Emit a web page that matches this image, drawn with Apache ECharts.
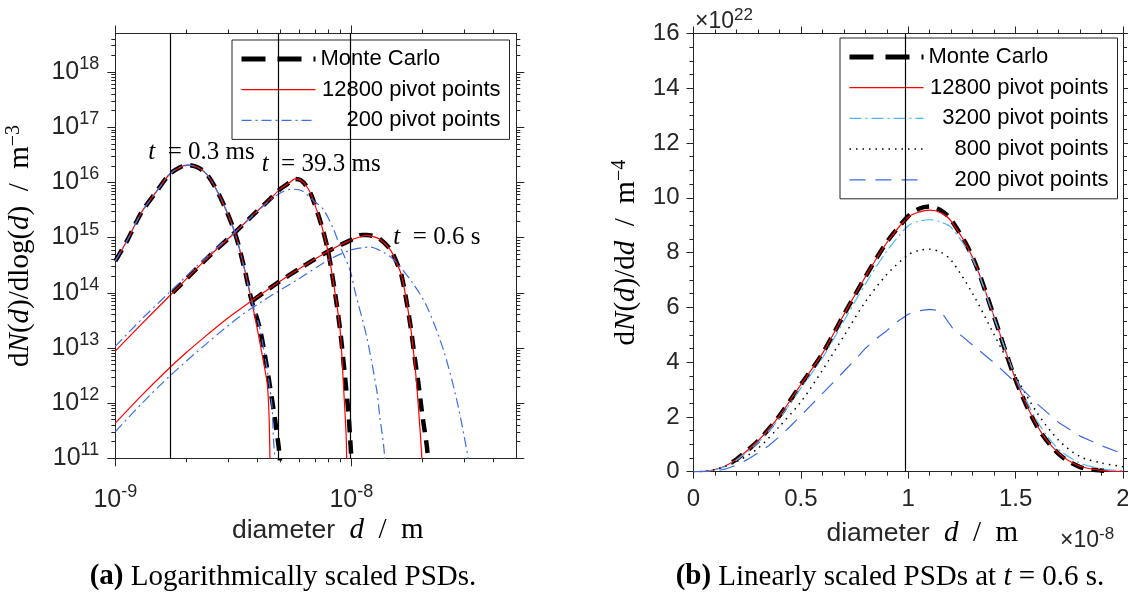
<!DOCTYPE html>
<html><head><meta charset="utf-8">
<script src="https://cdn.jsdelivr.net/npm/echarts@6/dist/echarts.min.js"></script>
<style>html,body{margin:0;padding:0;background:#fff}#c{width:1128px;height:596px}</style>
</head><body><div id="c"></div>
<script>
// ===== (a) log-scaled PSDs: diameter [m], dN/dlog(d) [m^-3] =====
// t = 0.3 ms
const mc03_d  = [1.0e-9, 1.13e-9, 1.29e-9, 1.52e-9, 1.70e-9, 1.875e-9, 2.03e-9, 2.24e-9, 2.47e-9, 2.81e-9, 3.21e-9, 3.53e-9, 3.77e-9, 4.09e-9, 4.30e-9, 4.51e-9, 4.73e-9, 4.92e-9, 5.0e-9];
const mc03_v  = [3.76e14, 9.3e14, 2.85e15, 7.55e15, 1.42e16, 1.87e16, 2.07e16, 1.87e16, 1.32e16, 4.97e15, 1.23e15, 2.65e14, 7.55e13, 2.31e13, 7.55e12, 2.15e12, 5.7e11, 1.63e11, 8e10];
const red03_d = [1.0e-9, 1.13e-9, 1.29e-9, 1.52e-9, 1.70e-9, 1.875e-9, 2.03e-9, 2.24e-9, 2.47e-9, 2.81e-9, 3.21e-9, 3.53e-9, 3.77e-9, 4.0e-9, 4.23e-9, 4.40e-9, 4.47e-9, 4.50e-9, 4.52e-9, 4.525e-9];
const red03_v = [3.76e14, 9.3e14, 2.85e15, 7.55e15, 1.42e16, 1.87e16, 2.05e16, 1.87e16, 1.32e16, 4.97e15, 1.23e15, 2.65e14, 7.55e13, 2.15e13, 6.0e12, 2.3e12, 8e11, 3e11, 1e11, 1e10];
const blu03_d = [1.0e-9, 1.13e-9, 1.29e-9, 1.52e-9, 1.70e-9, 1.875e-9, 2.03e-9, 2.24e-9, 2.47e-9, 2.81e-9, 3.21e-9, 3.53e-9, 3.77e-9, 4.09e-9, 4.30e-9, 4.51e-9, 4.62e-9, 4.68e-9, 4.74e-9, 4.76e-9];
const blu03_v = [3.76e14, 9.3e14, 2.85e15, 7.55e15, 1.42e16, 1.87e16, 2.05e16, 1.87e16, 1.32e16, 4.97e15, 1.23e15, 2.65e14, 7.55e13, 2.31e13, 7.3e12, 2.0e12, 8e11, 2.2e11, 1.0e11, 1e10];
// t = 39.3 ms
const mc39_d  = [1.75e-9, 2.47e-9, 3.153e-9, 3.906e-9, 4.52e-9, 4.99e-9, 5.50e-9, 5.77e-9, 6.10e-9, 6.44e-9, 6.79e-9, 7.49e-9, 7.99e-9, 8.53e-9, 8.96e-9, 9.40e-9, 9.71e-9, 9.85e-9, 1.0e-8, 1.01e-8];
const mc39_v  = [1.0e14, 4.38e14, 1.15e15, 2.77e15, 4.97e15, 7.55e15, 1.01e16, 1.15e16, 1.1e16, 8.7e15, 5.7e15, 1.63e15, 5.34e14, 1.0e14, 2.15e13, 3.05e12, 7e11, 3e11, 1.05e11, 7e10];
const red39_d = [1.0e-9, 1.273e-9, 1.705e-9, 2.47e-9, 3.153e-9, 3.906e-9, 4.52e-9, 4.99e-9, 5.50e-9, 5.77e-9, 6.10e-9, 6.44e-9, 6.79e-9, 7.49e-9, 7.99e-9, 8.53e-9, 8.96e-9, 9.25e-9, 9.50e-9, 9.55e-9, 9.57e-9];
const red39_v = [8.75e12, 2.54e13, 8.93e13, 4.38e14, 1.15e15, 2.77e15, 4.97e15, 7.55e15, 1.01e16, 1.16e16, 1.1e16, 8.7e15, 5.7e15, 1.63e15, 5.34e14, 1.0e14, 2.15e13, 2.3e12, 2.8e11, 1.07e11, 1e10];
const blu39_d = [1.0e-9, 1.273e-9, 1.705e-9, 2.47e-9, 3.37e-9, 4.0e-9, 4.9e-9, 5.58e-9, 6.2e-9, 6.79e-9, 7.6e-9, 8.4e-9, 8.95e-9, 9.85e-9, 1.04e-8, 1.16e-8, 1.28e-8, 1.32e-8, 1.38e-8, 1.40e-8];
const blu39_v = [1.07e13, 3.1e13, 1.04e14, 4.7e14, 1.5e15, 3.0e15, 6.1e15, 7.55e15, 7.0e15, 4.97e15, 3.27e15, 1.42e15, 7.0e14, 2.65e14, 1.0e14, 1.63e13, 1.75e12, 5.7e11, 1.23e11, 1e10];
// t = 0.6 s
const mc6_d   = [3.8e-9, 4.83e-9, 6.26e-9, 8.12e-9, 1.0e-8, 1.107e-8, 1.162e-8, 1.25e-8, 1.322e-8, 1.459e-8, 1.55e-8, 1.635e-8, 1.773e-8, 1.862e-8, 1.923e-8, 2.0e-8, 2.09e-8, 2.12e-8];
const mc6_v   = [7.08e13, 1.48e14, 3.02e14, 5.89e14, 9.1e14, 1.12e15, 1.12e15, 1.06e15, 9.4e14, 6.2e14, 3.7e14, 2.0e14, 2.85e13, 6e12, 2.3e12, 6e11, 1.63e11, 8e10];
const red6_d  = [1.0e-9, 1.3e-9, 1.70e-9, 2.0e-9, 2.47e-9, 3.0e-9, 3.77e-9, 4.83e-9, 6.26e-9, 8.12e-9, 1.0e-8, 1.107e-8, 1.162e-8, 1.25e-8, 1.322e-8, 1.459e-8, 1.55e-8, 1.635e-8, 1.773e-8, 1.862e-8, 1.923e-8, 1.988e-8, 2.0e-8];
const red6_v  = [4.33e11, 1.41e12, 4.37e12, 8.26e12, 1.78e13, 3.5e13, 7.08e13, 1.48e14, 3.02e14, 5.89e14, 9.1e14, 1.05e15, 1.10e15, 1.03e15, 9.3e14, 6.1e14, 3.6e14, 2.0e14, 2.85e13, 4.62e12, 8.7e11, 1.07e11, 3e10];
const blu6_d  = [1.0e-9, 1.3e-9, 1.70e-9, 2.47e-9, 3.37e-9, 4.30e-9, 6.0e-9, 8.12e-9, 9.87e-9, 1.124e-8, 1.2e-8, 1.35e-8, 1.507e-8, 1.8e-8, 2.087e-8, 2.454e-8, 2.796e-8, 3.083e-8, 3.12e-8, 3.13e-8];
const blu6_v  = [3.05e11, 1.0e12, 3.09e12, 1.26e13, 3.72e13, 7.5e13, 1.8e14, 4.07e14, 5.89e14, 6.6e14, 6.76e14, 5.6e14, 4.03e14, 1.6e14, 5.7e13, 9.3e12, 1.15e12, 1.42e11, 1e11, 1e10];
// reference diameters (vertical lines) [m]
const vLinesA = [1.706e-9, 4.915e-9, 9.87e-9];
// tick values
const xMajorA = [1e-9, 1e-8];
const xMinorA = [2e-9, 3e-9, 4e-9, 5e-9, 6e-9, 7e-9, 8e-9, 9e-9, 2e-8, 3e-8, 4e-8];
const yDecadesA = [11, 12, 13, 14, 15, 16, 17, 18];
const yMinorMult = [2, 3, 4, 5, 6, 7, 8, 9];

// ===== (b) linear PSDs at t = 0.6 s: diameter [1e-8 m], dN/dd [1e22 m^-4] =====
const mcB_x  = [0.18, 0.2, 0.3, 0.4, 0.5, 0.6, 0.7, 0.8, 0.9, 1.0, 1.05, 1.1, 1.15, 1.2, 1.3, 1.4, 1.5, 1.6, 1.7, 1.8, 1.9, 1.94];
const mcB_y  = [0.35, 0.45, 1.12, 2.04, 3.18, 4.31, 5.73, 7.11, 8.38, 9.33, 9.6, 9.68, 9.55, 9.2, 7.83, 5.65, 3.35, 1.65, 0.65, 0.17, 0.04, 0.02];
const gridB_x = [0, 0.05, 0.1, 0.15, 0.2, 0.3, 0.4, 0.5, 0.6, 0.7, 0.8, 0.9, 1.0, 1.05, 1.1, 1.15, 1.2, 1.3, 1.4, 1.5, 1.6, 1.7, 1.8, 1.9, 2.0];
const p12800_y = [0, 0.01, 0.08, 0.22, 0.45, 1.12, 2.04, 3.18, 4.31, 5.73, 7.11, 8.36, 9.3, 9.48, 9.55, 9.46, 9.15, 7.82, 5.65, 3.37, 1.68, 0.68, 0.2, 0.05, 0.01];
const p3200_y  = [0, 0.01, 0.07, 0.2, 0.42, 1.06, 1.95, 3.05, 4.15, 5.5, 6.85, 8.05, 8.98, 9.15, 9.2, 9.12, 8.92, 7.75, 5.62, 3.45, 1.85, 0.82, 0.32, 0.1, 0.04];
const p800_y   = [0, 0.01, 0.08, 0.2, 0.36, 0.85, 1.65, 2.55, 3.7, 4.95, 6.2, 7.2, 7.92, 8.08, 8.12, 8.02, 7.72, 6.5, 5.0, 3.5, 2.15, 1.15, 0.55, 0.32, 0.18];
const p200_x   = [0, 0.05, 0.1, 0.15, 0.2, 0.25, 0.3, 0.35, 0.4, 0.45, 0.5, 0.55, 0.6, 0.65, 0.7, 0.75, 0.8, 0.85, 0.9, 0.95, 1.0, 1.05, 1.1, 1.15, 1.21, 1.25, 1.3, 1.4, 1.5, 1.6, 1.7, 1.8, 1.9, 2.0];
const p200_y   = [0, 0, 0.02, 0.1, 0.24, 0.44, 0.68, 0.95, 1.28, 1.65, 2.05, 2.45, 2.85, 3.25, 3.66, 4.07, 4.5, 4.85, 5.15, 5.48, 5.75, 5.88, 5.93, 5.88, 5.2, 4.95, 4.62, 3.98, 3.25, 2.48, 1.8, 1.3, 0.95, 0.65];
const vLinesB = [0.987];

// ===== chart =====
const SANS = 'Liberation Sans', SERIF = 'Liberation Serif', AX = '#262626';
const zip = (a, b) => a.map((v, i) => [v, b[i]]);
const yMajorA = yDecadesA.map(e => Math.pow(10, e));
const yMinorA = [];
yDecadesA.forEach(e => yMinorMult.forEach(m => { const v = m * Math.pow(10, e); if (v < 5e18) yMinorA.push(v); }));

const ST = {
  mc:   {color: '#000000', width: 4.5, type: [13, 8], cap: 'butt'},
  red:  {color: '#ff0000', width: 1.2, type: 'solid'},
  bdd:  {color: '#3d6fe6', width: 1.2, type: [10, 4, 2, 4]},
  lb:   {color: '#4db8f5', width: 1.2, type: [12, 4, 2, 4]},
  dot:  {color: '#000000', width: 1.5, type: [1.5, 5]},
  bd:   {color: '#3a6ae0', width: 1.2, type: [16, 10]}
};
function line(name, data, st, xi, yi, extra) {
  return Object.assign({
    type: 'line', name, data, xAxisIndex: xi, yAxisIndex: yi,
    symbol: 'none', showSymbol: false, smooth: 0.3, clip: true, silent: true,
    itemStyle: {color: st.color},
    lineStyle: {color: st.color, width: st.width, type: st.type, cap: st.cap || 'butt'},
    emphasis: {disabled: true}
  }, extra || {});
}
const tickRich = {
  b: {fontSize: 25, fontFamily: SANS, color: AX},
  s: {fontSize: 18, fontFamily: SANS, color: AX, padding: [0, 0, 16, 0]}
};
const logLabel = v => '{b|10}{s|' + Math.round(Math.log10(v)) + '}';
const nameRich = {
  r: {fontFamily: SERIF, fontSize: 29, color: '#000'},
  i: {fontFamily: SERIF, fontSize: 29, fontStyle: 'italic', color: '#000'},
  sans: {fontFamily: SANS, fontSize: 26.5, color: AX},
  s: {fontFamily: SERIF, fontSize: 20, color: '#000', padding: [0, 0, 14, 0]}
};
const annRich = {
  i: {fontFamily: SERIF, fontSize: 25, fontStyle: 'italic', color: '#000'},
  r: {fontFamily: SERIF, fontSize: 25, color: '#000'}
};
const axLine = {show: true, onZero: false, lineStyle: {color: AX, width: 1}};
function logAxis(grid, pos, min, max, ticks, len, label) {
  const a = {
    type: 'log', logBase: 10, gridIndex: grid, position: pos, min, max,
    axisLine: label !== null ? axLine : {show: false, onZero: false},
    axisTick: {show: true, inside: false, length: len, customValues: ticks, lineStyle: {color: AX, width: 1}},
    axisLabel: {show: false}, splitLine: {show: false}, minorTick: {show: false}, minorSplitLine: {show: false}
  };
  if (label) a.axisLabel = Object.assign({show: true, customValues: ticks, formatter: logLabel, rich: tickRich, showMinLabel: true, showMaxLabel: true}, label);
  return a;
}
function linAxis(grid, pos, min, max, interval, split, labels, extra) {
  return Object.assign({
    type: 'value', gridIndex: grid, position: pos, min, max, interval,
    axisLine: axLine,
    axisTick: {show: true, inside: false, length: 7, lineStyle: {color: AX, width: 1}},
    minorTick: {show: true, splitNumber: split, length: 4, lineStyle: {color: AX, width: 1}},
    splitLine: {show: false}, minorSplitLine: {show: false},
    axisLabel: labels ? Object.assign({show: true, fontFamily: SANS, fontSize: 24, color: AX, showMinLabel: true, showMaxLabel: true}, labels) : {show: false}
  }, extra || {});
}
// vertical reference lines spanning the whole y range of each plot
const vmark = (vals, y0, y1) => ({
  silent: true, symbol: ['none', 'none'], animation: false,
  label: {show: false}, lineStyle: {color: '#000', width: 1.2, type: 'solid'},
  emphasis: {disabled: true},
  data: vals.map(v => [{coord: [v, y0]}, {coord: [v, y1]}])
});
const ann = (d, v, txt) => ({
  silent: true, symbol: 'circle', symbolSize: 0, animation: false,
  label: {show: true, position: 'right', distance: 0, formatter: txt, rich: annRich},
  data: [{coord: [d, v]}]
});

const legendFmt = n => { const t = n.trim(); return (t === 'Monte Carlo' ? '{l|' : '{r|') + t + '}'; };
const legendBase = {
  orient: 'vertical', itemWidth: 74, itemHeight: 14, itemGap: 8.7, padding: [8, 9, 8, 7],
  borderColor: AX, borderWidth: 1, backgroundColor: '#fff', selectedMode: false,
  formatter: legendFmt,
  itemStyle: {opacity: 0, borderWidth: 0},
  lineStyle: {width: 'inherit'},
  textStyle: {fontFamily: SANS, fontSize: 22, color: '#000', lineHeight: 22,
    rich: {l: {width: 180, align: 'left', fontFamily: SANS, fontSize: 22, lineHeight: 22},
           r: {width: 180, align: 'right', fontFamily: SANS, fontSize: 22, lineHeight: 22}}}
};
const mcLegend = n => ({name: n, lineStyle: {width: 5, type: [24, 12]}});

const option = {
  animation: false,
  backgroundColor: '#ffffff',
  grid: [
    {left: 115.3, top: 33.5, width: 401, height: 424.8, containLabel: false, outerBoundsMode: 'none'},
    {left: 693.5, top: 33.5, width: 429.5, height: 438.2, containLabel: false, outerBoundsMode: 'none'}
  ],
  xAxis: [
    Object.assign(logAxis(0, 'bottom', 1e-9, 5e-8, xMajorA, 8, {margin: 25}), {
      name: '{sans|diameter}{r|  }{i|d}{r|  /  m}', nameLocation: 'middle', nameGap: 58, nameMoveOverlap: false,
      nameTextStyle: {rich: nameRich, padding: [0, 0, 0, 24]}}),
    logAxis(0, 'bottom', 1e-9, 5e-8, xMinorA, 4, null),
    logAxis(0, 'top', 1e-9, 5e-8, xMajorA, 8, undefined),
    logAxis(0, 'top', 1e-9, 5e-8, xMinorA, 4, null),
    linAxis(1, 'bottom', 0, 2, 0.5, 5, {margin: 16}, {
      name: '{sans|diameter}{r|  }{i|d}{r|  /  m}', nameLocation: 'middle', nameGap: 47, nameMoveOverlap: false,
      nameTextStyle: {rich: nameRich, padding: [0, 0, 0, 28]}}),
    linAxis(1, 'top', 0, 2, 0.5, 5, null)
  ],
  yAxis: [
    Object.assign(logAxis(0, 'left', 1e11, 5e18, yMajorA, 8, {margin: 16}), {
      name: '{r|d}{i|N}{r|(}{i|d}{r|)/dlog(}{i|d}{r|)  /  m}{s|−3}', nameLocation: 'middle', nameRotate: 90, nameGap: 78, nameMoveOverlap: false,
      nameTextStyle: {rich: nameRich}}),
    logAxis(0, 'left', 1e11, 5e18, yMinorA, 4, null),
    logAxis(0, 'right', 1e11, 5e18, yMajorA, 8, undefined),
    logAxis(0, 'right', 1e11, 5e18, yMinorA, 4, null),
    linAxis(1, 'left', 0, 16, 2, 4, {margin: 14}, {
      name: '{r|d}{i|N}{r|(}{i|d}{r|)/d}{i|d}{r|  /  m}{s|−4}', nameLocation: 'middle', nameRotate: 90, nameGap: 50, nameMoveOverlap: false,
      nameTextStyle: {rich: nameRich}}),
    linAxis(1, 'right', 0, 16, 2, 4, null)
  ],
  legend: [
    Object.assign({}, legendBase, {left: 232, top: 40, data: [mcLegend('Monte Carlo'), '12800 pivot points', '200 pivot points']}),
    Object.assign({}, legendBase, {left: 840, top: 38, data: [mcLegend('Monte Carlo '), '12800 pivot points ', '3200 pivot points', '800 pivot points', '200 pivot points ']})
  ],
  graphic: [
    {type: 'text', x: 695, y: 22, silent: true, style: {text: '×10{s|22}', fontFamily: SANS, fontSize: 23, fill: AX, verticalAlign: 'middle',
      rich: {s: {fontFamily: SANS, fontSize: 17, fill: AX, padding: [0, 0, 14, 0]}}}},
    {type: 'text', x: 1060, y: 541, silent: true, style: {text: '×10{s|-8}', fontFamily: SANS, fontSize: 23, fill: AX, verticalAlign: 'middle',
      rich: {s: {fontFamily: SANS, fontSize: 17, fill: AX, padding: [0, 0, 14, 0]}}}},
    {type: 'text', x: 283, y: 577, silent: true, style: {text: '{b|(a)} Logarithmically scaled PSDs.', fontFamily: SERIF, fontSize: 29, fill: '#000', align: 'center', verticalAlign: 'middle',
      rich: {b: {fontFamily: SERIF, fontSize: 29, fontWeight: 'bold', fill: '#000'}}}},
    {type: 'text', x: 890, y: 577, silent: true, style: {text: '{b|(b)} Linearly scaled PSDs at {i|t} = 0.6 s.', fontFamily: SERIF, fontSize: 29, fill: '#000', align: 'center', verticalAlign: 'middle',
      rich: {b: {fontFamily: SERIF, fontSize: 29, fontWeight: 'bold', fill: '#000'}, i: {fontFamily: SERIF, fontSize: 29, fontStyle: 'italic', fill: '#000'}}}}
  ],
  series: [
    // (a)
    line('Monte Carlo', zip(mc03_d, mc03_v), ST.mc, 0, 0, {markLine: vmark(vLinesA, 1e11, 5e18)}),
    line('Monte Carlo', zip(mc39_d, mc39_v), ST.mc, 0, 0),
    line('Monte Carlo', zip(mc6_d, mc6_v), ST.mc, 0, 0),
    line('12800 pivot points', zip(red03_d, red03_v), ST.red, 0, 0, {markPoint: ann(1.38e-9, 3.56e16, '{i|t}{r|  = 0.3 ms}')}),
    line('12800 pivot points', zip(red39_d, red39_v), ST.red, 0, 0, {markPoint: ann(4.17e-9, 2.15e16, '{i|t}{r|  = 39.3 ms}')}),
    line('12800 pivot points', zip(red6_d, red6_v), ST.red, 0, 0, {markPoint: ann(1.507e-8, 1.0e15, '{i|t}{r|  = 0.6 s}')}),
    line('200 pivot points', zip(blu03_d, blu03_v), ST.bdd, 0, 0),
    line('200 pivot points', zip(blu39_d, blu39_v), ST.bdd, 0, 0),
    line('200 pivot points', zip(blu6_d, blu6_v), ST.bdd, 0, 0),
    // (b)
    line('Monte Carlo ', zip(mcB_x, mcB_y), ST.mc, 4, 4, {markLine: vmark(vLinesB, 0, 16)}),
    line('12800 pivot points ', zip(gridB_x, p12800_y), ST.red, 4, 4),
    line('3200 pivot points', zip(gridB_x, p3200_y), ST.lb, 4, 4),
    line('800 pivot points', zip(gridB_x, p800_y), ST.dot, 4, 4),
    line('200 pivot points ', zip(p200_x, p200_y), ST.bd, 4, 4, {smooth: false})
  ]
};
const chart = echarts.init(document.getElementById('c'), null, {renderer: 'canvas'});
chart.setOption(option);
</script>
</body></html>
